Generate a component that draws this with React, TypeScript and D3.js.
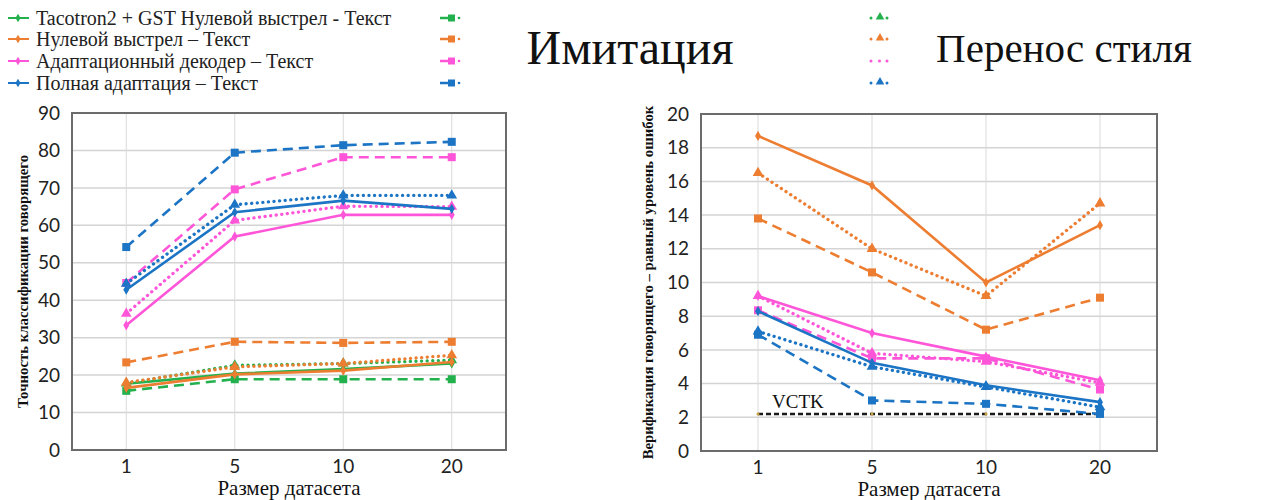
import React from "react";
import * as d3 from "d3";

const categories = ["1", "5", "10", "20"];
const leftTicks = [0, 10, 20, 30, 40, 50, 60, 70, 80, 90];
const rightTicks = [0, 2, 4, 6, 8, 10, 12, 14, 16, 18, 20];

// Imitation: speaker classification accuracy
const imitGreenSolid = [17.7, 20.4, 21.6, 23.1];
const imitGreenDashed = [15.8, 18.9, 18.9, 18.9];
const imitGreenDotted = [17.8, 22.6, 23.1, 24.0];
const imitOrangeSolid = [16.6, 20.2, 21.2, 23.5];
const imitOrangeDashed = [23.4, 28.9, 28.6, 28.9];
const imitOrangeDotted = [18.0, 22.2, 23.1, 25.3];
const imitPinkSolid = [33.3, 57.0, 62.8, 62.8];
const imitPinkDashed = [44.6, 69.6, 78.2, 78.2];
const imitPinkDotted = [36.4, 61.3, 65.1, 65.0];
const imitBlueSolid = [42.8, 63.5, 66.6, 64.4];
const imitBlueDashed = [54.2, 79.4, 81.4, 82.3];
const imitBlueDotted = [44.4, 65.5, 68.0, 68.0];

// Style transfer: speaker verification EER
const styleOrangeSolid = [18.7, 15.76, 10.0, 13.4];
const styleOrangeDashed = [13.8, 10.6, 7.2, 9.1];
const styleOrangeDotted = [16.5, 12.0, 9.2, 14.7];
const stylePinkSolid = [9.2, 7.0, 5.6, 4.2];
const stylePinkDashed = [8.35, 5.5, 5.5, 3.65];
const stylePinkDotted = [9.2, 5.8, 5.3, 4.05];
const styleBlueSolid = [8.3, 5.23, 3.9, 2.9];
const styleBlueDashed = [6.9, 3.0, 2.8, 2.2];
const styleBlueDotted = [7.1, 5.0, 3.8, 2.6];
const vctkValues = [2.2, 2.2, 2.2, 2.2];

const legendLabels = [
  "Tacotron2 + GST Нулевой выстрел - Текст",
  "Нулевой выстрел – Текст",
  "Адаптационный декодер – Текст",
  "Полная адаптация – Текст",
];

const GREEN = "#22b14c";
const ORANGE = "#ed7d31";
const PINK = "#ff55d8";
const BLUE = "#1b74c4";
const legendColors = [GREEN, ORANGE, PINK, BLUE];

type Kind = "solid" | "dashed" | "dotted";
type Series = { values: number[]; color: string; kind: Kind };

const leftSeries: Series[] = [
  { values: imitGreenDashed, color: GREEN, kind: "dashed" },
  { values: imitGreenDotted, color: GREEN, kind: "dotted" },
  { values: imitGreenSolid, color: GREEN, kind: "solid" },
  { values: imitOrangeDashed, color: ORANGE, kind: "dashed" },
  { values: imitOrangeDotted, color: ORANGE, kind: "dotted" },
  { values: imitOrangeSolid, color: ORANGE, kind: "solid" },
  { values: imitPinkDashed, color: PINK, kind: "dashed" },
  { values: imitPinkDotted, color: PINK, kind: "dotted" },
  { values: imitPinkSolid, color: PINK, kind: "solid" },
  { values: imitBlueDashed, color: BLUE, kind: "dashed" },
  { values: imitBlueDotted, color: BLUE, kind: "dotted" },
  { values: imitBlueSolid, color: BLUE, kind: "solid" },
];

const rightSeries: Series[] = [
  { values: styleOrangeDashed, color: ORANGE, kind: "dashed" },
  { values: styleOrangeDotted, color: ORANGE, kind: "dotted" },
  { values: styleOrangeSolid, color: ORANGE, kind: "solid" },
  { values: stylePinkDashed, color: PINK, kind: "dashed" },
  { values: stylePinkDotted, color: PINK, kind: "dotted" },
  { values: stylePinkSolid, color: PINK, kind: "solid" },
  { values: styleBlueDashed, color: BLUE, kind: "dashed" },
  { values: styleBlueDotted, color: BLUE, kind: "dotted" },
  { values: styleBlueSolid, color: BLUE, kind: "solid" },
];

const SERIF = "'Liberation Serif', 'DejaVu Serif', serif";
const SANS = "Lato, 'Open Sans', sans-serif";

function Marker({ kind, color, x, y }: { kind: Kind; color: string; x: number; y: number }) {
  if (kind === "dashed") {
    return <rect x={x - 4} y={y - 4} width={8} height={8} fill={color} />;
  }
  if (kind === "dotted") {
    const p = d3.symbol().type(d3.symbolTriangle).size(50)();
    return <path d={p || ""} transform={`translate(${x},${y})`} fill={color} />;
  }
  const p = d3.symbol().type(d3.symbolDiamond).size(30)();
  return <path d={p || ""} transform={`translate(${x},${y})`} fill={color} />;
}

function dashFor(kind: Kind) {
  if (kind === "dashed") return "10 6";
  if (kind === "dotted") return "0.1 5.5";
  return undefined;
}

function Panel({
  left, right, top, bottom, ticks, maxY, series, yTitle, titleX, vctk,
}: {
  left: number; right: number; top: number; bottom: number; ticks: number[]; maxY: number;
  series: Series[]; yTitle: string; titleX: number; vctk?: number[];
}) {
  const x = d3.scalePoint<string>().domain(categories).range([left, right]).padding(0.5);
  const y = d3.scaleLinear().domain([0, maxY]).range([bottom, top]);
  const line = d3.line<number>().x((_, i) => x(categories[i]) as number).y((d) => y(d));
  const cx = (left + right) / 2;
  const cy = (top + bottom) / 2;
  return (
    <g>
      {ticks.map((t) => (
        <line key={"h" + t} x1={left} x2={right} y1={y(t)} y2={y(t)} stroke="#d4d4d4" strokeWidth={1.5} />
      ))}
      {categories.map((c) => (
        <line key={"v" + c} x1={x(c)} x2={x(c)} y1={top} y2={bottom} stroke="#d9d9d9" strokeWidth={1} />
      ))}
      <rect x={left} y={top} width={right - left} height={bottom - top} fill="none" stroke="#6b6b6b" strokeWidth={2} />
      {ticks.map((t) => (
        <text key={"t" + t} x={left - 12} y={y(t)} dy="0.35em" textAnchor="end" fontFamily={SANS} fontSize={19} fill="#222">
          {t}
        </text>
      ))}
      {categories.map((c) => (
        <text key={"c" + c} x={x(c)} y={bottom + 16} dy="0.35em" textAnchor="middle" fontFamily={SANS} fontSize={19} fill="#222">
          {c}
        </text>
      ))}
      <text x={cx} y={bottom + 45} textAnchor="middle" fontFamily={SERIF} fontSize={21} fill="#111">
        Размер датасета
      </text>
      {vctk && (
        <g>
          <path d={line(vctk) || ""} fill="none" stroke="#1a1a1a" strokeWidth={2.6} strokeDasharray="5 3" />
          {vctk.map((v, i) => (
            <circle key={i} cx={x(categories[i]) as number} cy={y(v)} r={1.5} fill="#c8a13a" />
          ))}
          <text x={(x(categories[0]) as number) + 14} y={y(vctk[0]) - 6} fontFamily={SERIF} fontSize={19} fill="#111">
            VCTK
          </text>
        </g>
      )}
      {series.map((s, si) => (
        <g key={si}>
          <path d={line(s.values) || ""} fill="none" stroke={s.color} strokeWidth={s.kind === "dotted" ? 3.3 : 2.6}
            strokeDasharray={dashFor(s.kind)} strokeLinecap={s.kind === "dotted" ? "round" : "butt"} />
          {s.values.map((v, i) => (
            <Marker key={i} kind={s.kind} color={s.color} x={x(categories[i]) as number} y={y(v)} />
          ))}
        </g>
      ))}
      <text transform={`translate(${titleX},${cy}) rotate(-90)`} textAnchor="middle" dy="0.35em" fontFamily={SERIF}
        fontWeight="bold" fontSize={14.8} fill="#111">
        {yTitle}
      </text>
    </g>
  );
}

export default function App() {
  const rowY = [18, 39, 61, 83];
  return (
    <svg width={1287} height={500} style={{ position: "absolute", left: 0, top: 0, background: "#fff" }}>
      <rect width={1287} height={500} fill="#fff" />
      {legendLabels.map((lab, i) => (
        <g key={lab}>
          <line x1={8} x2={29} y1={rowY[i]} y2={rowY[i]} stroke={legendColors[i]} strokeWidth={2} />
          <path d={d3.symbol().type(d3.symbolDiamond).size(22)() || ""} transform={`translate(18,${rowY[i]})`} fill={legendColors[i]} />
          <text x={36} y={rowY[i]} dy="0.33em" fontFamily={SERIF} fontSize={20} fill="#222">{lab}</text>
          <line x1={440} x2={449} y1={rowY[i]} y2={rowY[i]} stroke={legendColors[i]} strokeWidth={2.5} />
          <rect x={448} y={rowY[i] - 3.5} width={7} height={7} fill={legendColors[i]} />
          <circle cx={459} cy={rowY[i]} r={1.3} fill={legendColors[i]} />
          <circle cx={871} cy={rowY[i]} r={1.5} fill={legendColors[i]} />
          {i === 2 ? (
            <circle cx={879.5} cy={rowY[i]} r={1.5} fill={legendColors[i]} />
          ) : (
            <path d={d3.symbol().type(d3.symbolTriangle).size(32)() || ""} transform={`translate(880,${rowY[i] - 1})`} fill={legendColors[i]} />
          )}
          <circle cx={887} cy={rowY[i]} r={1.5} fill={legendColors[i]} />
        </g>
      ))}
      <text x={630} y={64} textAnchor="middle" fontFamily={SERIF} fontSize={48} fill="#111">Имитация</text>
      <text x={1064} y={62} textAnchor="middle" fontFamily={SERIF} fontSize={41} fill="#111">Перенос стиля</text>
      <Panel left={72} right={506} top={113} bottom={450} ticks={leftTicks} maxY={90} series={leftSeries}
        titleX={23} yTitle="Точность классификации говорящего" />
      <Panel left={701} right={1157} top={114} bottom={451} ticks={rightTicks} maxY={20} series={rightSeries}
        titleX={648} yTitle="Верификация говорящего – равный уровень ошибок" vctk={vctkValues} />
    </svg>
  );
}
